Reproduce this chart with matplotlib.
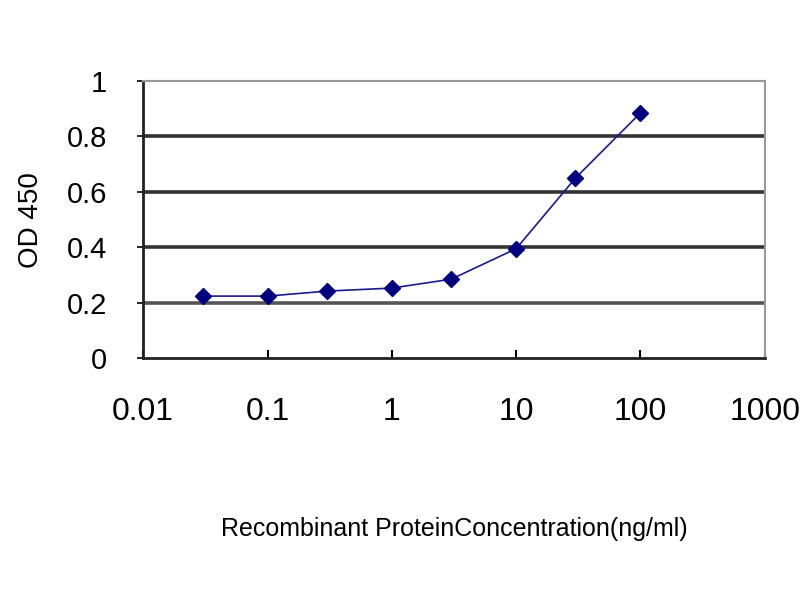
import matplotlib

matplotlib.use("Agg")
import matplotlib.pyplot as plt

concentration = [0.03, 0.1, 0.3, 1, 3, 10, 30, 100]
od450 = [0.224, 0.224, 0.242, 0.253, 0.285, 0.395, 0.65, 0.885]
y_ticks = [0, 0.2, 0.4, 0.6, 0.8, 1]
y_tick_labels = ["0", "0.2", "0.4", "0.6", "0.8", "1"]
x_ticks = [0.01, 0.1, 1, 10, 100, 1000]
x_tick_labels = ["0.01", "0.1", "1", "10", "100", "1000"]

plt.rcParams["font.family"] = ["Liberation Sans", "DejaVu Sans"]

fig = plt.figure(figsize=(8, 6), dpi=100)
ax = fig.add_axes([0.179, 0.403, 0.777, 0.462])

for y in y_ticks[1:-1]:
    ax.axhline(y, color="#333333" if y > 0.2 else "#555555", linewidth=2.6, zorder=1)

ax.plot(concentration, od450, color="#1a1a8c", linewidth=1.2, marker="D",
        markersize=8, markerfacecolor="#000080", markeredgecolor="#000080", zorder=3)

ax.set_xscale("log")
ax.set_xlim(0.01, 1000)
ax.set_ylim(0, 1)
ax.set_xticks(x_ticks)
ax.set_xticklabels(x_tick_labels)
ax.minorticks_off()
ax.set_yticks(y_ticks)
ax.set_yticklabels(y_tick_labels)
ax.tick_params(axis="x", direction="in", length=6, width=1.5, labelsize=23, pad=28)
ax.tick_params(axis="y", direction="out", length=4, width=1.2, labelsize=21, pad=22)

for side in ["left", "bottom"]:
    ax.spines[side].set_linewidth(2.0)
    ax.spines[side].set_color("#222222")
for side in ["top", "right"]:
    ax.spines[side].set_linewidth(1.5)
    ax.spines[side].set_color("#999999")

ax.set_ylabel("OD 450", fontsize=20, labelpad=16)
ax.set_xlabel("Recombinant ProteinConcentration(ng/ml)", fontsize=18, labelpad=65)

fig.savefig("out.png", dpi=100)
plt.close(fig)
